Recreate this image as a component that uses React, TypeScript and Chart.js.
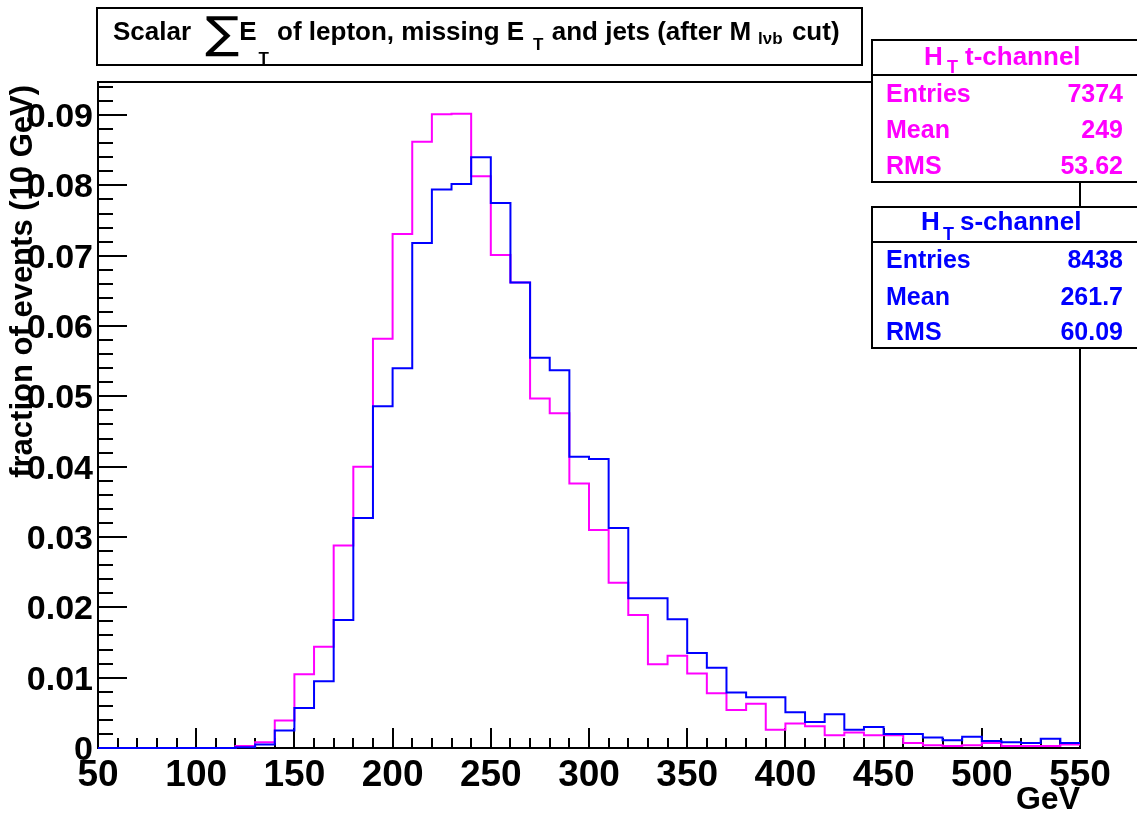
import { useEffect, useRef } from "react";
import { Chart, registerables } from "chart.js";

Chart.register(...registerables);

// ---- data ----
const binEdges = [
  50, 60, 70, 80, 90, 100, 110, 120, 130, 140,
  150, 160, 170, 180, 190, 200, 210, 220, 230, 240,
  250, 260, 270, 280, 290, 300, 310, 320, 330, 340,
  350, 360, 370, 380, 390, 400, 410, 420, 430, 440,
  450, 460, 470, 480, 490, 500, 510, 520, 530, 540, 550,
];

const tChannel = [
  0, 0, 0, 0, 0, 0, 0, 0.0003, 0.0008, 0.0039,
  0.0105, 0.0144, 0.0288, 0.04, 0.0582, 0.0731, 0.0862, 0.0901, 0.0902, 0.0813,
  0.0701, 0.0662, 0.0497, 0.0476, 0.0376, 0.031, 0.0235, 0.0189, 0.0119, 0.0131,
  0.0106, 0.0078, 0.0054, 0.0063, 0.0026, 0.0035, 0.0031, 0.0018, 0.0022, 0.0018,
  0.0018, 0.0007, 0.0004, 0.0003, 0.0004, 0.0007, 0.0003, 0.0003, 0.0003, 0.0005,
];

const sChannel = [
  0, 0, 0, 0, 0, 0, 0, 0.0001, 0.0005, 0.0025,
  0.0057, 0.0095, 0.0182, 0.0327, 0.0486, 0.054, 0.0718, 0.0794, 0.0802, 0.084,
  0.0775, 0.0662, 0.0555, 0.0537, 0.0414, 0.0411, 0.0313, 0.0213, 0.0213, 0.0183,
  0.0135, 0.0114, 0.0079, 0.0072, 0.0072, 0.0051, 0.0037, 0.0048, 0.0026, 0.003,
  0.002, 0.002, 0.0015, 0.0011, 0.0016, 0.001, 0.0008, 0.0007, 0.0013, 0.0007,
];

const xMajorTicks = [50, 100, 150, 200, 250, 300, 350, 400, 450, 500, 550];
const xTickLabels = ["50", "100", "150", "200", "250", "300", "350", "400", "450", "500", "550"];
const yMajorTicks = [0, 0.01, 0.02, 0.03, 0.04, 0.05, 0.06, 0.07, 0.08, 0.09];
const yTickLabels = ["0", "0.01", "0.02", "0.03", "0.04", "0.05", "0.06", "0.07", "0.08", "0.09"];

const tStats = [
  ["Entries", "7374"],
  ["Mean", "249"],
  ["RMS", "53.62"],
];
const sStats = [
  ["Entries", "8438"],
  ["Mean", "261.7"],
  ["RMS", "60.09"],
];

const X_MIN = 50;
const X_MAX = 550;
const Y_MIN = 0;
const Y_MAX = 0.0947;
const X_MINOR = 10;
const Y_MINOR = 0.002;

const MAGENTA = "#ff00ff";
const BLUE = "#0000ff";
const FF = '"Liberation Sans", Arial, Helvetica, sans-serif';
const B = (s: number) => `bold ${s}px ${FF}`;

function toSteps(values: number[]) {
  return binEdges.map((x, i) => ({ x, y: values[Math.min(i, values.length - 1)] }));
}

type Run = { text: string; font: string; y: number; dx?: number; sx?: number };

// draws runs one after the other, starting at startX
function flowRuns(ctx: CanvasRenderingContext2D, runs: Run[], startX: number) {
  let x = startX;
  for (const r of runs) {
    ctx.save();
    ctx.font = r.font;
    x += r.dx || 0;
    const sx = r.sx || 1;
    ctx.translate(x, r.y);
    ctx.scale(sx, 1);
    ctx.fillText(r.text, 0, 0);
    ctx.restore();
    ctx.font = r.font;
    x += ctx.measureText(r.text).width * sx;
  }
}

type PRun = { text: string; font: string; x: number; y: number };

function drawRuns(ctx: CanvasRenderingContext2D, runs: PRun[]) {
  for (const r of runs) {
    ctx.font = r.font;
    ctx.fillText(r.text, r.x, r.y);
  }
}

function drawStatBox(
  ctx: CanvasRenderingContext2D,
  top: number,
  sep: number,
  bottom: number,
  color: string,
  header: PRun[],
  rows: string[][],
  rowBases: number[]
) {
  const left = 872;
  const right = 1140;
  ctx.save();
  ctx.fillStyle = "#ffffff";
  ctx.fillRect(left, top, right - left, bottom - top);
  ctx.strokeStyle = "#000000";
  ctx.lineWidth = 2;
  ctx.strokeRect(left, top, right - left, bottom - top);
  ctx.beginPath();
  ctx.moveTo(left, sep);
  ctx.lineTo(right, sep);
  ctx.stroke();

  ctx.fillStyle = color;
  ctx.textBaseline = "alphabetic";
  ctx.textAlign = "left";
  drawRuns(ctx, header);

  ctx.font = B(25);
  rows.forEach((r, i) => {
    ctx.textAlign = "left";
    ctx.fillText(r[0], 886, rowBases[i]);
    ctx.textAlign = "right";
    ctx.fillText(r[1], 1123, rowBases[i]);
  });
  ctx.restore();
}

const rootDecor = {
  id: "rootDecor",
  beforeDatasetsDraw(chart: any) {
    const ctx: CanvasRenderingContext2D = chart.ctx;
    const { left, right, top, bottom } = chart.chartArea;
    const xs = chart.scales.x;
    const ys = chart.scales.y;
    ctx.save();
    ctx.strokeStyle = "#000000";
    ctx.lineWidth = 2;
    ctx.strokeRect(left, top, right - left, bottom - top);

    // x ticks (inside)
    ctx.beginPath();
    for (let v = X_MIN; v <= X_MAX + 1e-9; v += X_MINOR) {
      const px = Math.round(xs.getPixelForValue(v));
      const len = Math.abs((v - X_MIN) % 50) < 1e-6 ? 20 : 10;
      ctx.moveTo(px, bottom);
      ctx.lineTo(px, bottom - len);
    }
    // y ticks (inside)
    for (let k = 0; k * Y_MINOR <= Y_MAX + 1e-9; k++) {
      const v = k * Y_MINOR;
      const py = Math.round(ys.getPixelForValue(v));
      const len = k % 5 === 0 ? 29 : 15;
      ctx.moveTo(left, py);
      ctx.lineTo(left + len, py);
    }
    ctx.stroke();

    // labels
    ctx.fillStyle = "#000000";
    ctx.font = B(37);
    ctx.textAlign = "center";
    ctx.textBaseline = "alphabetic";
    xMajorTicks.forEach((v, i) => {
      ctx.fillText(xTickLabels[i], xs.getPixelForValue(v), 786);
    });
    ctx.font = B(34);
    ctx.textAlign = "right";
    yMajorTicks.forEach((v, i) => {
      ctx.fillText(yTickLabels[i], left - 5, ys.getPixelForValue(v) + 12);
    });

    // axis titles
    ctx.font = B(32);
    ctx.textAlign = "right";
    ctx.fillText("GeV", right, 809);

    ctx.save();
    ctx.translate(32, 85);
    ctx.rotate(-Math.PI / 2);
    ctx.font = B(31);
    ctx.textAlign = "right";
    ctx.fillText("fraction of events (10 GeV)", 0, 0);
    ctx.restore();
    ctx.restore();
  },
  afterDraw(chart: any) {
    const ctx: CanvasRenderingContext2D = chart.ctx;
    ctx.save();
    // title box
    ctx.fillStyle = "#ffffff";
    ctx.fillRect(97, 8, 765, 57);
    ctx.strokeStyle = "#000000";
    ctx.lineWidth = 2;
    ctx.strokeRect(97, 8, 765, 57);
    ctx.fillStyle = "#000000";
    ctx.textAlign = "left";
    ctx.textBaseline = "alphabetic";
    flowRuns(
      ctx,
      [
        { text: "Scalar", font: B(26), y: 40 },
        { text: "\u2211", font: `44px "DejaVu Sans", sans-serif`, y: 48, dx: 14, sx: 1.15 },
        { text: "E", font: B(26), y: 40, dx: 0 },
        { text: "T", font: B(17), y: 64, dx: 2 },
        { text: " of lepton, missing E", font: B(26), y: 40, dx: 1 },
        { text: "T", font: B(17), y: 50, dx: 9 },
        { text: " and jets (after M", font: B(26), y: 40, dx: 1 },
        { text: "l\u03bdb", font: B(17), y: 44, dx: 7 },
        { text: " cut)", font: B(26), y: 40, dx: 2 },
      ],
      113
    );

    drawStatBox(
      ctx, 40, 75, 182, MAGENTA,
      [
        { text: "H", font: B(26), x: 924, y: 65 },
        { text: "T", font: B(18), x: 947, y: 73 },
        { text: "t-channel", font: B(26), x: 965, y: 65 },
      ],
      tStats, [102, 138, 174]
    );
    drawStatBox(
      ctx, 207, 242, 348, BLUE,
      [
        { text: "H", font: B(26), x: 921, y: 230 },
        { text: "T", font: B(18), x: 943, y: 240 },
        { text: "s-channel", font: B(26), x: 960, y: 230 },
      ],
      sStats, [268, 305, 340]
    );
    ctx.restore();
  },
};

export default function App() {
  const ref = useRef<HTMLCanvasElement | null>(null);

  useEffect(() => {
    if (!ref.current) return;
    const chart = new Chart(ref.current, {
      type: "line",
      data: {
        datasets: [
          {
            label: "H_T s-channel",
            data: toSteps(sChannel),
            borderColor: BLUE,
            borderWidth: 2,
            pointRadius: 0,
            stepped: "before",
            fill: false,
            order: 0,
            clip: 4,
          } as any,
          {
            label: "H_T t-channel",
            data: toSteps(tChannel),
            borderColor: MAGENTA,
            borderWidth: 2,
            pointRadius: 0,
            stepped: "before",
            fill: false,
            order: 1,
            clip: 4,
          } as any,
        ],
      },
      options: {
        responsive: false,
        devicePixelRatio: 1,
        animation: false,
        layout: { padding: { left: 98, right: 57, top: 82, bottom: 66 } },
        plugins: {
          legend: { display: false },
          tooltip: { enabled: false },
          title: { display: false },
        },
        scales: {
          x: { type: "linear", min: X_MIN, max: X_MAX, display: false },
          y: { type: "linear", min: Y_MIN, max: Y_MAX, display: false },
        },
      },
      plugins: [rootDecor],
    });
    return () => chart.destroy();
  }, []);

  return (
    <div style={{ position: "absolute", left: 0, top: 0, width: 1137, height: 814, background: "#fff" }}>
      <canvas ref={ref} width={1137} height={814} style={{ display: "block" }} />
    </div>
  );
}
